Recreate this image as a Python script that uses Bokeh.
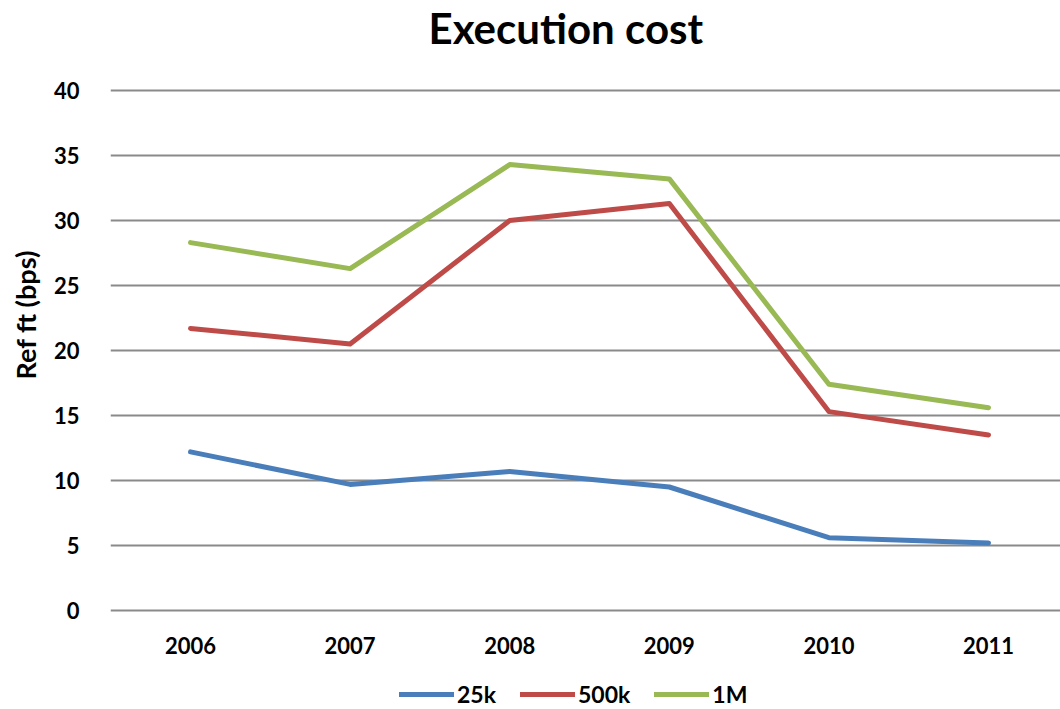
from bokeh.plotting import figure
from bokeh.layouts import column
from bokeh.models import Range1d, FixedTicker, Legend, LegendItem, Title, Label
from bokeh.embed import file_html
from bokeh.resources import INLINE

# Execution cost by year and trade size (bps)
years = [2006, 2007, 2008, 2009, 2010, 2011]
cost_25k = [12.2, 9.7, 10.7, 9.5, 5.6, 5.2]
cost_500k = [21.7, 20.5, 30.0, 31.3, 15.3, 13.5]
cost_1m = [28.3, 26.3, 34.3, 33.2, 17.4, 15.6]

series_names = ["25k", "500k", "1M"]
series_colors = ["#4A7EBB", "#BE4B48", "#98B954"]
series_values = [cost_25k, cost_500k, cost_1m]

FONT = "Lato"
PAD = 2 / 13.0  # a little room so the 0 and 40 gridlines are not clipped


def bare_figure(height, **kw):
    f = figure(width=1060, height=height, output_backend="svg", toolbar_location=None,
               x_range=Range1d(0, 1), y_range=Range1d(0, 1),
               x_axis_location=None, y_axis_location=None, title_location=None, **kw)
    f.grid.visible = False
    f.outline_line_color = None
    f.background_fill_color = "white"
    f.border_fill_color = "white"
    return f


# --- title strip ---
head = bare_figure(60, min_border_left=110, min_border_right=0, min_border_top=0, min_border_bottom=0)
head.add_layout(Label(
    x=318, y=33, x_units="screen", y_units="screen",
    text="Execution cost", text_font=FONT, text_font_size="42px",
    text_font_style="bold", text_color="black",
    text_align="left", text_baseline="alphabetic",
))

# --- main chart ---
p = figure(
    width=1060, height=598,
    output_backend="svg", toolbar_location=None, title_location=None,
    x_range=Range1d(2005.4987, 2011.451), y_range=Range1d(-PAD, 40 + PAD),
    min_border_left=110, min_border_right=0, min_border_top=28, min_border_bottom=46,
)
p.outline_line_color = None
p.background_fill_color = "white"
p.border_fill_color = "white"

# y axis
p.yaxis.ticker = FixedTicker(ticks=[0, 5, 10, 15, 20, 25, 30, 35, 40])
p.yaxis.axis_line_color = None
p.yaxis.major_tick_line_color = None
p.yaxis.minor_tick_line_color = None
p.yaxis.major_label_standoff = 25
p.yaxis.major_label_text_font = FONT
p.yaxis.major_label_text_font_size = "22px"
p.yaxis.major_label_text_font_style = "bold"
p.yaxis.major_label_text_color = "black"

# y axis title, sitting a little above the middle of the plot
ytitle = Title(text="Ref ft (bps)", align="left", offset=233, vertical_align="top",
               text_font=FONT, text_font_size="27px", text_font_style="bold",
               text_color="black", standoff=14)
p.add_layout(ytitle, "left")

# x axis
p.xaxis.ticker = FixedTicker(ticks=years)
p.xaxis.axis_line_color = None
p.xaxis.major_tick_line_color = None
p.xaxis.minor_tick_line_color = None
p.xaxis.major_label_standoff = 18
p.xaxis.major_label_text_font = FONT
p.xaxis.major_label_text_font_size = "22px"
p.xaxis.major_label_text_font_style = "bold"
p.xaxis.major_label_text_color = "black"

p.xgrid.grid_line_color = None
p.ygrid.grid_line_color = "#8A8A8A"
p.ygrid.grid_line_width = 2

for vals, color in zip(series_values, series_colors):
    p.line(years, vals, line_color=color, line_width=5,
           line_cap="round", line_join="round")

# --- legend strip: same series, drawn outside this strip's visible range ---
foot = bare_figure(51, min_border_left=110, min_border_right=0, min_border_top=0, min_border_bottom=0)
swatches = [foot.line(years, vals, line_color=c, line_width=5, line_cap="round")
            for vals, c in zip(series_values, series_colors)]
legend = Legend(
    items=[LegendItem(label=n, renderers=[r]) for n, r in zip(series_names, swatches)],
    orientation="horizontal", location=(289, 1),
    label_text_font=FONT, label_text_font_size="23px", label_text_font_style="bold",
    label_text_color="black",
    glyph_width=55, glyph_height=20, label_standoff=3, spacing=24,
    border_line_color=None, background_fill_alpha=0, padding=0, margin=0,
)
foot.add_layout(legend)

open("out.html", "w").write(file_html(column(head, p, foot, spacing=0), INLINE))
